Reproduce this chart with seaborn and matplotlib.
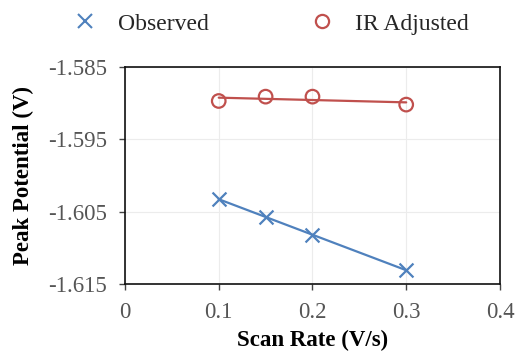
import numpy as np
import pandas as pd
import matplotlib
matplotlib.use("Agg")
import matplotlib.pyplot as plt
import seaborn as sns
from matplotlib.lines import Line2D

# Peak potentials at each scan rate
scan_rate = [0.1, 0.15, 0.2, 0.3]
observed = [-1.6033, -1.6057, -1.6082, -1.6131]
ir_adjusted = [-1.5897, -1.5891, -1.5891, -1.5902]

series_names = ["Observed", "IR Adjusted"]
x_ticks = [0, 0.1, 0.2, 0.3, 0.4]
y_ticks = [-1.615, -1.605, -1.595, -1.585]
y_tick_labels = ["-1.615", "-1.605", "-1.595", "-1.585"]

blue = "#4F81BD"
red = "#C0504D"

sns.set_theme(style="white")
plt.rcParams["font.family"] = ["Liberation Serif", "DejaVu Serif"]

df = pd.DataFrame({"rate": scan_rate, "obs": observed, "ir": ir_adjusted})

fig = plt.figure(figsize=(5.17, 3.55), dpi=100)
ax = fig.add_axes([0.2418, 0.2, 0.7252, 0.6113])

# linear trendlines through each series
sns.regplot(data=df, x="rate", y="obs", ax=ax, ci=None, scatter=False,
            color=blue, line_kws={"linewidth": 1.6})
sns.regplot(data=df, x="rate", y="ir", ax=ax, ci=None, scatter=False,
            color=red, line_kws={"linewidth": 1.6})
sns.scatterplot(data=df, x="rate", y="obs", ax=ax, marker="x", s=100,
                color=blue, linewidth=1.6, zorder=3)
sns.scatterplot(data=df, x="rate", y="ir", ax=ax, marker="o", s=95,
                facecolor="none", edgecolor=red, linewidth=1.6, zorder=3)

ax.set_xlim(0, 0.4)
ax.set_ylim(-1.615, -1.585)
ax.set_xticks(x_ticks)
ax.set_xticklabels([f"{t:g}" for t in x_ticks])
ax.set_yticks(y_ticks)
ax.set_yticklabels(y_tick_labels)

ax.grid(True, color="#ececec", linewidth=0.8)
for s in ax.spines.values():
    s.set_visible(True)
    s.set_color("#111111")
    s.set_linewidth(1.2)

ax.tick_params(axis="both", direction="out", length=4, width=1,
               colors="#444444", labelcolor="#555555", labelsize=16.5)
ax.tick_params(axis="y", pad=9, left=True)
ax.tick_params(axis="x", pad=9, bottom=True)

ax.set_xlabel("Scan Rate (V/s)", fontsize=16.5, fontweight="bold",
              color="black", labelpad=5)
ax.set_ylabel("Peak Potential (V)", fontsize=16.5, fontweight="bold",
              color="black", labelpad=10)

handles = [
    Line2D([], [], linestyle="none", marker="x", color=blue,
           markersize=9.5, markeredgewidth=1.5),
    Line2D([], [], linestyle="none", marker="o", markerfacecolor="none",
           markeredgecolor=red, markersize=9.5, markeredgewidth=1.6),
]
fig.legend(handles, series_names, loc="center", ncol=2,
           bbox_to_anchor=(270 / 517, 1 - 24 / 355), frameon=False,
           fontsize=17, columnspacing=4.2, handletextpad=0.8,
           handlelength=1.2)

fig.savefig("out.png", dpi=100)
